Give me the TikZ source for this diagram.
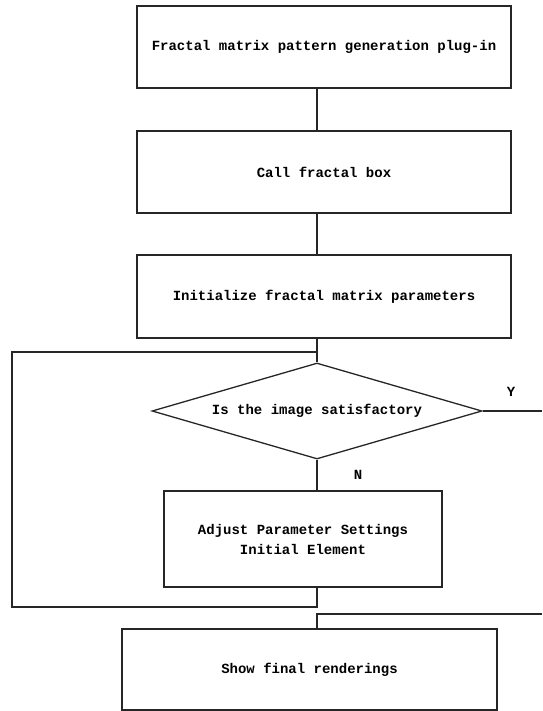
\documentclass[tikz,border=0pt]{standalone}
\usepackage{fontspec}
\usepackage{tikz}
\usetikzlibrary{shapes.geometric}
\newfontfamily\flowfont{Liberation Mono}

\begin{document}
\begin{tikzpicture}[x=1pt,y=-1pt,
    line/.style={draw=black!85,line width=1.3pt},
    procbox/.style={line,rectangle,inner sep=0pt,font=\flowfont\bfseries\fontsize{14}{20}\selectfont,align=center},
    decide/.style={line,diamond,aspect=3.4,inner sep=0pt,minimum width=330pt,minimum height=96pt,font=\flowfont\bfseries\fontsize{14}{20}\selectfont},
    tag/.style={font=\flowfont\bfseries\fontsize{14}{17}\selectfont}]
      \useasboundingbox (0,0) rectangle (542,711);
      \node[procbox,minimum width=374pt,minimum height=82pt] (plugin) at (324,47) {Fractal matrix pattern generation plug-in};
      \node[procbox,minimum width=374pt,minimum height=82pt] (callbox) at (324,172) {Call fractal box};
      \node[procbox,minimum width=374pt,minimum height=83pt] (initbox) at (324,296.5) {Initialize fractal matrix parameters};
      \node[decide] (check) at (317,411) {Is the image satisfactory};
      \node[procbox,minimum width=278pt,minimum height=96pt] (adjust) at (303,539) {Adjust Parameter Settings\\Initial Element};
      \node[procbox,minimum width=375pt,minimum height=81pt] (show) at (309.5,669.5) {Show final renderings};
      \coordinate (loopL) at (12,352);
      \coordinate (loopB) at (12,607);
      \coordinate (yout) at (542,411);
      \coordinate (yback) at (542,614);
      \draw[line] (check.north |- plugin.south) -- (check.north |- callbox.north);
      \draw[line] (check.north |- callbox.south) -- (check.north |- initbox.north);
      \draw[line] (check.north |- initbox.south) -- (check.north);
      \draw[line] (check.south) -- (check.south |- adjust.north);
      \draw[line] (check.south |- adjust.south) |- (loopB) -- (loopL) -- (loopL -| check.north);
      \draw[line] (check.east) -- (check.east -| yout);
      \draw[line] (yback) -- (yback -| check.south) -- (check.south |- show.north);
      \node[tag] (ylabel) at (511,392) {Y};
      \node[tag] (nlabel) at (358,475) {N};
    \end{tikzpicture}
\end{document}
